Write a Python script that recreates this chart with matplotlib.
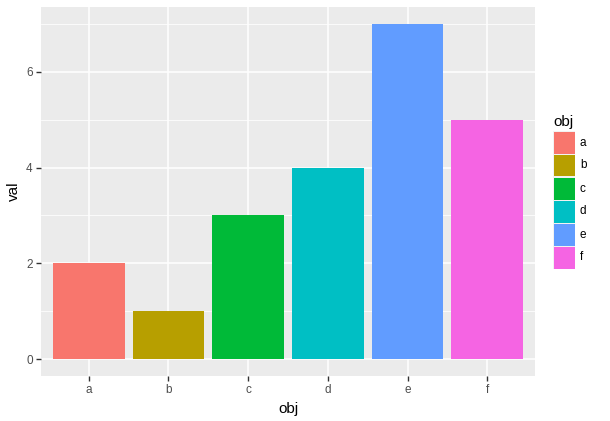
import matplotlib
matplotlib.use("Agg")
import matplotlib.pyplot as plt
from matplotlib.patches import Rectangle

plt.rcParams['font.family'] = ['Liberation Sans', 'DejaVu Sans']

objs = ['a', 'b', 'c', 'd', 'e', 'f']
vals = [2, 1, 3, 4, 7, 5]
fills = ['#F8766D', '#B79F00', '#00BA38', '#00BFC4', '#619CFF', '#F564E3']

W, H = 610, 421
fig = plt.figure(figsize=(W / 100, H / 100), dpi=100)
fig.patch.set_facecolor('white')

# panel in pixel coordinates
L, R, T, B = 41, 535, 7, 376
ax = fig.add_axes([L / W, 1 - B / H, (R - L) / W, (B - T) / H])
ax.set_facecolor('#EBEBEB')
xs = list(range(1, len(objs) + 1))
ax.bar(xs, vals, width=0.9, color=fills, zorder=3)
ax.set_xlim(0.4, 6.6)
ax.set_ylim(-0.35, 7.35)
ax.set_xticks(xs)
ax.set_xticklabels(objs)
ax.set_yticks([0, 2, 4, 6])
ax.set_yticks([1, 3, 5, 7], minor=True)
ax.grid(which='major', color='white', linewidth=1.1, zorder=1)
ax.grid(which='minor', axis='y', color='white', linewidth=0.55, zorder=1)
for s in ax.spines.values():
    s.set_visible(False)
ax.tick_params(which='major', length=3.5, width=1, color='#333333',
               labelcolor='#4D4D4D', labelsize=8.5, pad=2.5)
ax.tick_params(which='minor', length=0)
ax.set_xlabel('obj', fontsize=11, labelpad=4)
ax.set_ylabel('val', fontsize=11, labelpad=4)

# legend
fig.text(553 / W, 1 - 122 / H, 'obj', fontsize=11, va='center', ha='left')
kx, ky, kw, kh = 553, 131, 22, 23
for i, (o, c) in enumerate(zip(objs, fills)):
    y0 = ky + i * kh
    fig.patches.append(Rectangle(((kx) / W, 1 - (y0 + kh) / H), kw / W, kh / H,
                                 transform=fig.transFigure, facecolor='#F2F2F2',
                                 edgecolor='none'))
    fig.patches.append(Rectangle(((kx + 0.5) / W, 1 - (y0 + kh - 0.5) / H),
                                 (kw - 1) / W, (kh - 1) / H,
                                 transform=fig.transFigure, facecolor=c,
                                 edgecolor='none'))
    fig.text((kx + kw + 5) / W, 1 - (y0 + kh / 2) / H, o, fontsize=8.5,
             va='center', ha='left')

fig.savefig('out.png', dpi=100)
